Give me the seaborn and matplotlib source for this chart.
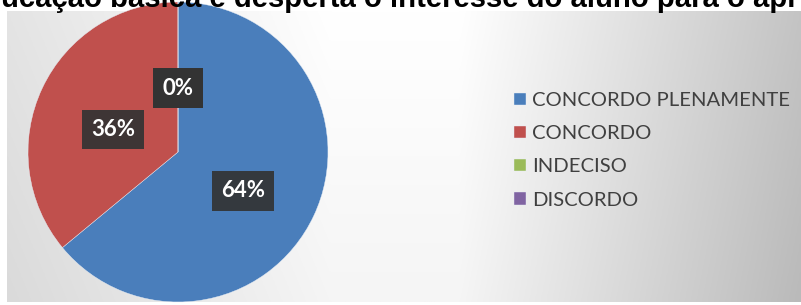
import numpy as np
import seaborn as sns
import matplotlib.pyplot as plt

# data
categories = ['CONCORDO PLENAMENTE', 'CONCORDO', 'INDECISO', 'DISCORDO']
values = [64, 36, 0, 0]
title = 'ucação básica e desperta o interesse do aluno para o apr'

sns.set_theme(style='white')
plt.rcParams['font.family'] = ['Lato', 'DejaVu Sans']
colors = sns.color_palette(['#4a7ebb', '#c0504d', '#9bbb59', '#8064a2'])

W, H = 801, 305
fig = plt.figure(figsize=(W / 100, H / 100), dpi=100)
fig.patch.set_facecolor('white')

# gradient background of the chart area
bg = fig.add_axes([7 / W, 3 / H, 794 / W, 291 / H])
xs = np.linspace(7, 801, 400)
ys = np.linspace(0, 1, 150)
base = np.interp(xs, [7, 330, 460, 801], [228, 255, 255, 196])
grad = base[None, :] - 10 * ys[:, None]
grad = np.clip(grad, 0, 255) / 255
bg.imshow(np.dstack([grad] * 3), aspect='auto', extent=[0, 1, 0, 1], origin='upper')
bg.set_axis_off()

# pie
ax = fig.add_axes([28 / W, 3 / H, 300 / W, 291 / H])
wedges, texts, autotexts = ax.pie(values, colors=colors, startangle=90, counterclock=False,
                                  autopct='%.0f%%', pctdistance=0.48, radius=1,
                                  wedgeprops=dict(linewidth=0.3, edgecolor='#e8eef6'))
ax.set_xlim(-1, 1)
ax.set_ylim(-1, 0.94)
ax.set_aspect('auto')
ax.set_axis_off()
for t in autotexts:
    x, y = t.get_position()
    t.set_position((x, y - 0.055))
    t.set_color('white')
    t.set_fontsize(16)
    t.set_fontweight('bold')
    t.set_bbox(dict(boxstyle='square,pad=0.42', fc='#333333', ec='none', alpha=0.92))

leg = fig.legend(wedges, categories, loc='upper left', bbox_to_anchor=(514 / W, 1 - 92 / H),
                 frameon=False, fontsize=14.6, handlelength=0.6, handleheight=0.55,
                 handletextpad=0.3, labelspacing=0.8, borderpad=0, borderaxespad=0)
for t in leg.get_texts():
    t.set_color('#404040')

# title cut at the top of the picture, as in the source image
tt = fig.text(1 / W, 1 - 7 / H, title, fontsize=20, fontweight='bold', color='black',
              family='Liberation Sans', ha='left', va='baseline')
fig.canvas.draw()
w = tt.get_window_extent().width
tt.set_fontsize(20 * 796 / w)

fig.savefig('out.png', dpi=100)
